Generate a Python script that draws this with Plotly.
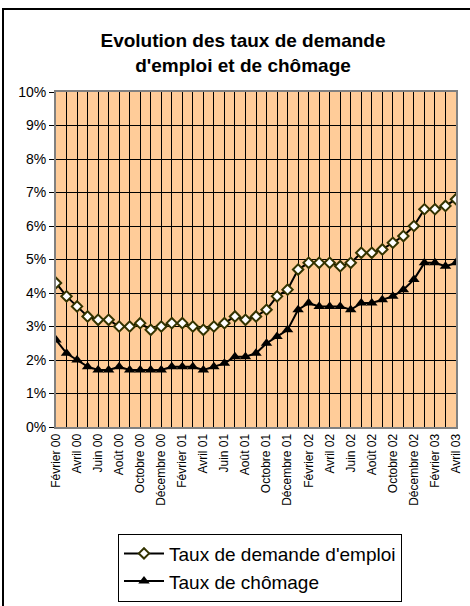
import plotly.graph_objects as go

# monthly series, Feb 2000 -> Apr 2003
mois = [
    "Février 00", "Mars 00", "Avril 00", "Mai 00", "Juin 00", "Juillet 00",
    "Août 00", "Septembre 00", "Octobre 00", "Novembre 00", "Décembre 00",
    "Janvier 01", "Février 01", "Mars 01", "Avril 01", "Mai 01", "Juin 01",
    "Juillet 01", "Août 01", "Septembre 01", "Octobre 01", "Novembre 01",
    "Décembre 01", "Janvier 02", "Février 02", "Mars 02", "Avril 02", "Mai 02",
    "Juin 02", "Juillet 02", "Août 02", "Septembre 02", "Octobre 02",
    "Novembre 02", "Décembre 02", "Janvier 03", "Février 03", "Mars 03", "Avril 03",
]
demande_emploi = [
    4.3, 3.9, 3.6, 3.3, 3.2, 3.2, 3.0, 3.0, 3.1, 2.9, 3.0, 3.1, 3.1,
    3.0, 2.9, 3.0, 3.1, 3.3, 3.2, 3.3, 3.5, 3.9, 4.1, 4.7, 4.9, 4.9,
    4.9, 4.8, 4.9, 5.2, 5.2, 5.3, 5.5, 5.7, 6.0, 6.5, 6.5, 6.6, 6.8,
]
chomage = [
    2.6, 2.2, 2.0, 1.8, 1.7, 1.7, 1.8, 1.7, 1.7, 1.7, 1.7, 1.8, 1.8,
    1.8, 1.7, 1.8, 1.9, 2.1, 2.1, 2.2, 2.5, 2.7, 2.9, 3.5, 3.7, 3.6,
    3.6, 3.6, 3.5, 3.7, 3.7, 3.8, 3.9, 4.1, 4.4, 4.9, 4.9, 4.8, 4.9,
]
y_ticks = [0, 1, 2, 3, 4, 5, 6, 7, 8, 9, 10]

idx = list(range(len(mois)))
FONT = "Liberation Sans, Arial, sans-serif"

fig = go.Figure()
fig.add_trace(go.Scatter(
    x=idx, y=demande_emploi, mode="lines+markers",
    name="Taux de demande d'emploi",
    line=dict(color="black", width=2),
    marker=dict(symbol="diamond", size=8, color="white",
                line=dict(color="#333300", width=2)),
))
fig.add_trace(go.Scatter(
    x=idx, y=chomage, mode="lines+markers",
    name="Taux de chômage",
    line=dict(color="black", width=2),
    marker=dict(symbol="triangle-up", size=10, color="black",
                line=dict(color="black", width=0)),
))

fig.update_layout(
    width=470, height=606,
    margin=dict(l=56, r=14, t=92, b=179, autoexpand=False),
    paper_bgcolor="white",
    plot_bgcolor="#FFCC99",
    font=dict(family=FONT, color="black"),
    title=dict(
        text="<b>Evolution des taux de demande<br>d'emploi et de chômage</b>",
        x=0.517, xanchor="center", y=1 - 47 / 606, yanchor="middle",
        font=dict(size=19, family=FONT),
    ),
    showlegend=True,
    legend=dict(
        x=0.155, xanchor="left", y=-0.318, yanchor="top",
        bordercolor="black", borderwidth=1, bgcolor="white",
        font=dict(size=19, family=FONT),
        itemwidth=40, tracegroupgap=0,
    ),
    shapes=[
        dict(type="rect", xref="paper", yref="paper",
             x0=-0.1325, x1=1.3, y0=-1.0, y1=1.2478,
             line=dict(color="black", width=2), fillcolor="rgba(0,0,0,0)",
             layer="below"),
    ],
)

fig.update_xaxes(
    range=[0, len(mois) - 1], automargin=False,
    tickvals=idx[::2], ticktext=mois[::2],
    tickangle=-90, tickfont=dict(size=12),
    showgrid=True, gridcolor="black", gridwidth=1,
    minor=dict(dtick=1, tick0=0, showgrid=True, gridcolor="black", gridwidth=1),
    showline=True, linecolor="#808080", linewidth=2, mirror=True,
    ticks="", zeroline=False,
)
fig.update_yaxes(
    range=[0, 10], automargin=False,
    tickvals=y_ticks, ticktext=[f"{v}%" for v in y_ticks],
    tickfont=dict(size=14),
    showgrid=True, gridcolor="black", gridwidth=1,
    showline=True, linecolor="#808080", linewidth=2, mirror=True,
    ticks="outside", ticklen=5, tickcolor="black",
    zeroline=False,
)

# the page body has a default 8px margin; remove it so the figure sits at (0, 0)
fig.write_html(
    "out.html",
    config={"displayModeBar": False},
    post_script="document.body.style.margin='0px';",
)
